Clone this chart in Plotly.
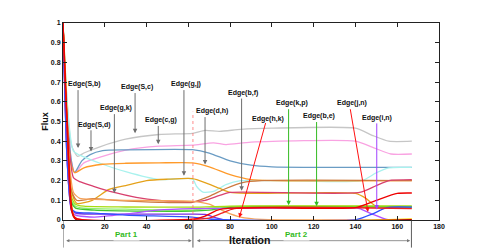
import plotly.graph_objects as go

# ---------------- data (key points) ----------------
gray_x = [0, 2, 4, 7, 10, 18, 30, 46, 62, 68, 75, 85, 100, 140, 148, 156, 167]
gray_y = [1, 0.6, 0.38, 0.323, 0.34, 0.373, 0.41, 0.434, 0.44, 0.455, 0.45, 0.46, 0.466, 0.466, 0.43, 0.40, 0.40]

pink_x = [0, 2, 4, 5.7, 10, 19, 30, 46, 62, 72, 78, 90, 140, 148, 157, 167]
pink_y = [1, 0.55, 0.3, 0.24, 0.29, 0.323, 0.355, 0.375, 0.38, 0.392, 0.383, 0.395, 0.40, 0.37, 0.335, 0.335]

blue_steel_x = [0, 2, 4, 5.5, 9, 13, 19, 30, 62, 70, 80, 90, 100, 167]
blue_steel_y = [1, 0.55, 0.3, 0.24, 0.3, 0.332, 0.352, 0.356, 0.357, 0.34, 0.3, 0.278, 0.27, 0.267]

cyan_x = [0, 2, 5, 10, 19, 30, 46, 62, 64, 67, 72, 78, 85, 143, 150, 156, 167]
cyan_y = [1, 0.6, 0.35, 0.32, 0.283, 0.245, 0.205, 0.209, 0.17, 0.142, 0.145, 0.18, 0.2, 0.2, 0.24, 0.265, 0.267]

orange_x = [0, 2, 4, 5.7, 10, 19, 30, 46, 62, 70, 80, 90, 100, 167]
orange_y = [1, 0.5, 0.28, 0.24, 0.265, 0.283, 0.288, 0.29, 0.29, 0.27, 0.23, 0.205, 0.2, 0.2]

gold_x = [0, 2, 4, 6.5, 14, 22, 30, 40, 50, 62, 68, 75, 80, 88, 140, 145, 150, 167]
gold_y = [1, 0.45, 0.15, 0.085, 0.1, 0.155, 0.175, 0.2, 0.207, 0.21, 0.19, 0.16, 0.14, 0.135, 0.135, 0.11, 0.07, 0.068]

sienna_x = [0, 2, 4, 6.5, 14, 25, 46, 62, 70, 78, 86, 95, 167]
sienna_y = [1, 0.45, 0.15, 0.1, 0.108, 0.1, 0.09, 0.09, 0.12, 0.16, 0.19, 0.2, 0.2]

crimson_x = [0, 2, 5, 8, 15, 24, 35, 46, 62, 68, 75, 80, 142, 150, 156, 167]
crimson_y = [1, 0.5, 0.215, 0.195, 0.17, 0.141, 0.115, 0.1, 0.093, 0.1, 0.125, 0.14, 0.14, 0.175, 0.2, 0.205]

tan_x = [0, 2, 5, 8, 15, 30, 62, 70, 78, 85, 95, 167]
tan_y = [1, 0.45, 0.14, 0.11, 0.105, 0.1, 0.095, 0.08, 0.04, 0.015, 0.003, 0.002]

lime_x = [0, 2, 4, 6, 10, 30, 62, 80, 100, 167]
lime_y = [1, 0.4, 0.12, 0.08, 0.07, 0.066, 0.065, 0.07, 0.072, 0.072]

lightgreen_x = [0, 2, 4, 6, 10, 30, 62, 70, 80, 167]
lightgreen_y = [1, 0.4, 0.1, 0.07, 0.06, 0.055, 0.05, 0.06, 0.068, 0.068]

green_x = [0, 2, 4, 6, 15, 40, 62, 70, 80, 167]
green_y = [1, 0.35, 0.09, 0.06, 0.05, 0.045, 0.045, 0.05, 0.064, 0.066]

violet_x = [0, 2, 4, 6, 15, 40, 62, 68, 73, 77, 167]
violet_y = [1, 0.3, 0.06, 0.035, 0.03, 0.03, 0.03, 0.028, 0.012, 0.001, 0.001]

purple_x = [0, 2, 4, 6, 15, 30, 45, 62, 140, 142, 148, 155, 167]
purple_y = [1, 0.3, 0.05, 0.025, 0.015, 0.03, 0.05, 0.058, 0.06, 0.058, 0.03, 0.003, 0.002]

blue_x = [0, 2, 4, 6, 15, 30, 62, 70, 80, 140, 148, 155, 167]
blue_y = [1, 0.3, 0.06, 0.04, 0.035, 0.025, 0.015, 0.005, 0.001, 0.001, 0.03, 0.063, 0.065]

red_a_x = [0, 1, 2, 3, 4, 5, 7, 62, 68, 74, 80, 100, 140, 150, 160, 167]
red_a_y = [1, 0.75, 0.5, 0.25, 0.08, 0.02, 0.005, 0.003, 0.02, 0.05, 0.06, 0.062, 0.063, 0.1, 0.135, 0.137]

red_b_x = [0, 1, 2, 3, 4, 6, 62, 70, 76, 82, 167]
red_b_y = [1, 0.7, 0.45, 0.2, 0.06, 0.01, 0.004, 0.01, 0.035, 0.058, 0.058]

red_c_x = [0, 1, 2, 3, 4, 6, 167]
red_c_y = [1, 0.72, 0.48, 0.22, 0.05, 0.004, 0.002]

yellow_x = [0, 1, 2, 3, 4, 6, 167]
yellow_y = [1, 0.78, 0.52, 0.26, 0.08, 0.01, 0.006]

x_ticks = [0, 20, 40, 60, 80, 100, 120, 140, 160, 180]
y_ticks = [0, 0.1, 0.2, 0.3, 0.4, 0.5, 0.6, 0.7, 0.8, 0.9, 1]
y_tick_text = ["0", "0.1", "0.2", "0.3", "0.4", "0.5", "0.6", "0.7", "0.8", "0.9", "1"]

# edge labels: text, text position (x, y), arrow tail (x, y), arrow head (x, y), colour key
edge_labels = ["Edge(S,b)", "Edge(S,d)", "Edge(g,k)", "Edge(S,c)", "Edge(c,g)", "Edge(g,j)",
               "Edge(d,h)", "Edge(b,f)", "Edge(h,k)", "Edge(k,p)", "Edge(b,e)", "Edge(j,n)", "Edge(i,n)"]
label_x = [10.5, 15.3, 25.6, 35.2, 46.7, 59.1, 71.3, 86.2, 98.1, 109.4, 122.5, 138.3, 150.5]
label_y = [0.692, 0.484, 0.567, 0.675, 0.507, 0.692, 0.552, 0.647, 0.514, 0.592, 0.527, 0.592, 0.519]
tail_x = [7.2, 13.4, 24.6, 34.5, 45.6, 57.9, 68.0, 85.5, 97.2, 108.0, 121.4, 137.4, 150.2]
tail_y = [0.667, 0.463, 0.545, 0.652, 0.485, 0.667, 0.53, 0.624, 0.50, 0.57, 0.505, 0.57, 0.498]
head_x = [7.2, 13.4, 24.6, 34.5, 45.6, 57.9, 68.0, 85.5, 84.4, 108.0, 121.4, 146.0, 150.2]
head_y = [0.365, 0.348, 0.136, 0.44, 0.385, 0.224, 0.282, 0.149, 0.012, 0.075, 0.07, 0.041, 0.053]
arrow_kind = ["g", "g", "g", "g", "g", "g", "g", "g", "r", "G", "G", "r", "p"]

part_boundaries = [0, 62.2, 166.8]

# ---------------- styles ----------------
series = [
    (gray_x, gray_y, "#c6c6c6"),
    (pink_x, pink_y, "#f9a3e2"),
    (blue_steel_x, blue_steel_y, "#6a9cc4"),
    (cyan_x, cyan_y, "#a9f2ee"),
    (orange_x, orange_y, "#ff9a2a"),
    (gold_x, gold_y, "#e5a21b"),
    (sienna_x, sienna_y, "#cc7a3e"),
    (crimson_x, crimson_y, "#d8406e"),
    (tan_x, tan_y, "#f5a35a"),
    (lightgreen_x, lightgreen_y, "#8ef06a"),
    (green_x, green_y, "#3fc62c"),
    (lime_x, lime_y, "#a6dc10"),
    (violet_x, violet_y, "#7a30e0"),
    (purple_x, purple_y, "#b052ff"),
    (blue_x, blue_y, "#3050ff"),
    (yellow_x, yellow_y, "#ffd200"),
    (red_c_x, red_c_y, "#b00000"),
    (red_b_x, red_b_y, "#f02020"),
    (red_a_x, red_a_y, "#ee0000"),
]
arrow_colors = {"g": "#6e6e6e", "r": "#ff1010", "G": "#33bb22", "p": "#a040ff"}

fig = go.Figure()
for xs, ys, col in series:
    fig.add_trace(go.Scatter(x=xs, y=ys, mode="lines",
                             line=dict(color=col, width=1.3, shape="spline", smoothing=0.6),
                             hoverinfo="skip", showlegend=False))

annotations = []
for i, t in enumerate(edge_labels):
    annotations.append(dict(x=label_x[i], y=label_y[i], xref="x", yref="y", text=t, showarrow=False,
                            font=dict(family="Liberation Sans, Arial", size=7, color="#111", weight="bold")))
    annotations.append(dict(x=head_x[i], y=head_y[i], ax=tail_x[i], ay=tail_y[i], xref="x", yref="y",
                            axref="x", ayref="y", text="", showarrow=True, arrowhead=2, arrowsize=0.9,
                            arrowwidth=1, arrowcolor=arrow_colors[arrow_kind[i]]))

# Part arrows below the axis
ypart = -0.105
annotations.append(dict(x=part_boundaries[1] - 0.6, y=ypart, xref="x", yref="paper", ax=part_boundaries[0] + 0.8,
                        ay=0, axref="x", ayref="pixel", text="", showarrow=True, arrowhead=2, arrowside="end+start",
                        arrowsize=0.8, arrowwidth=0.8, arrowcolor="#777"))
annotations.append(dict(x=part_boundaries[2] - 0.6, y=ypart, xref="x", yref="paper", ax=part_boundaries[1] + 1.2,
                        ay=0, axref="x", ayref="pixel", text="", showarrow=True, arrowhead=2, arrowside="end+start",
                        arrowsize=0.8, arrowwidth=0.8, arrowcolor="#777"))
annotations.append(dict(x=30.5, y=ypart, xref="x", yref="paper", text="Part 1", showarrow=False, bgcolor="white",
                        font=dict(family="Liberation Sans, Arial", size=8, color="#33bb22", weight="bold")))
annotations.append(dict(x=112, y=ypart, xref="x", yref="paper", text="Part 2", showarrow=False, bgcolor="white",
                        font=dict(family="Liberation Sans, Arial", size=8, color="#33bb22", weight="bold")))
# axis titles
annotations.append(dict(x=89.5, y=-0.06, xref="x", yref="paper", text="Iteration", showarrow=False,
                        yanchor="top", font=dict(family="Liberation Sans, Arial", size=10.5, color="#111", weight="bold")))
annotations.append(dict(x=-0.05, y=0.5, xref="paper", yref="y", text="Flux", showarrow=False, textangle=-90,
                        xanchor="center", yanchor="middle",
                        font=dict(family="Liberation Sans, Arial", size=9, color="#111", weight="bold")))

shapes = []
for b in part_boundaries:
    shapes.append(dict(type="line", xref="x", yref="paper", x0=b, x1=b, y0=0, y1=-0.14,
                       line=dict(color="#333", width=0.8)))
shapes.append(dict(type="line", xref="x", yref="y", x0=part_boundaries[1], x1=part_boundaries[1], y0=0, y1=0.55,
                   line=dict(color="#ff7070", width=0.8, dash="dot")))

axis_font = dict(family="Liberation Sans, Arial", size=7, color="#111", weight="bold")
# the page body has an 8px margin, so the figure is drawn 8px smaller with shifted margins
fig.update_layout(
    width=477, height=240,
    margin=dict(l=55, r=46, t=11, b=28),
    paper_bgcolor="white", plot_bgcolor="white",
    showlegend=False,
    annotations=annotations, shapes=shapes,
    xaxis=dict(range=[0, 180], tickvals=x_ticks, ticks="inside", ticklen=4, tickcolor="#222",
               showline=True, linecolor="#222", linewidth=1, mirror="ticks", showgrid=False,
               zeroline=False, tickfont=axis_font),
    yaxis=dict(range=[0, 1], tickvals=y_ticks, ticktext=y_tick_text, ticks="inside", ticklen=4,
               tickcolor="#222", showline=True, linecolor="#222", linewidth=1, mirror="ticks",
               showgrid=False, zeroline=False, tickfont=axis_font),
)
fig.write_html("out.html")
